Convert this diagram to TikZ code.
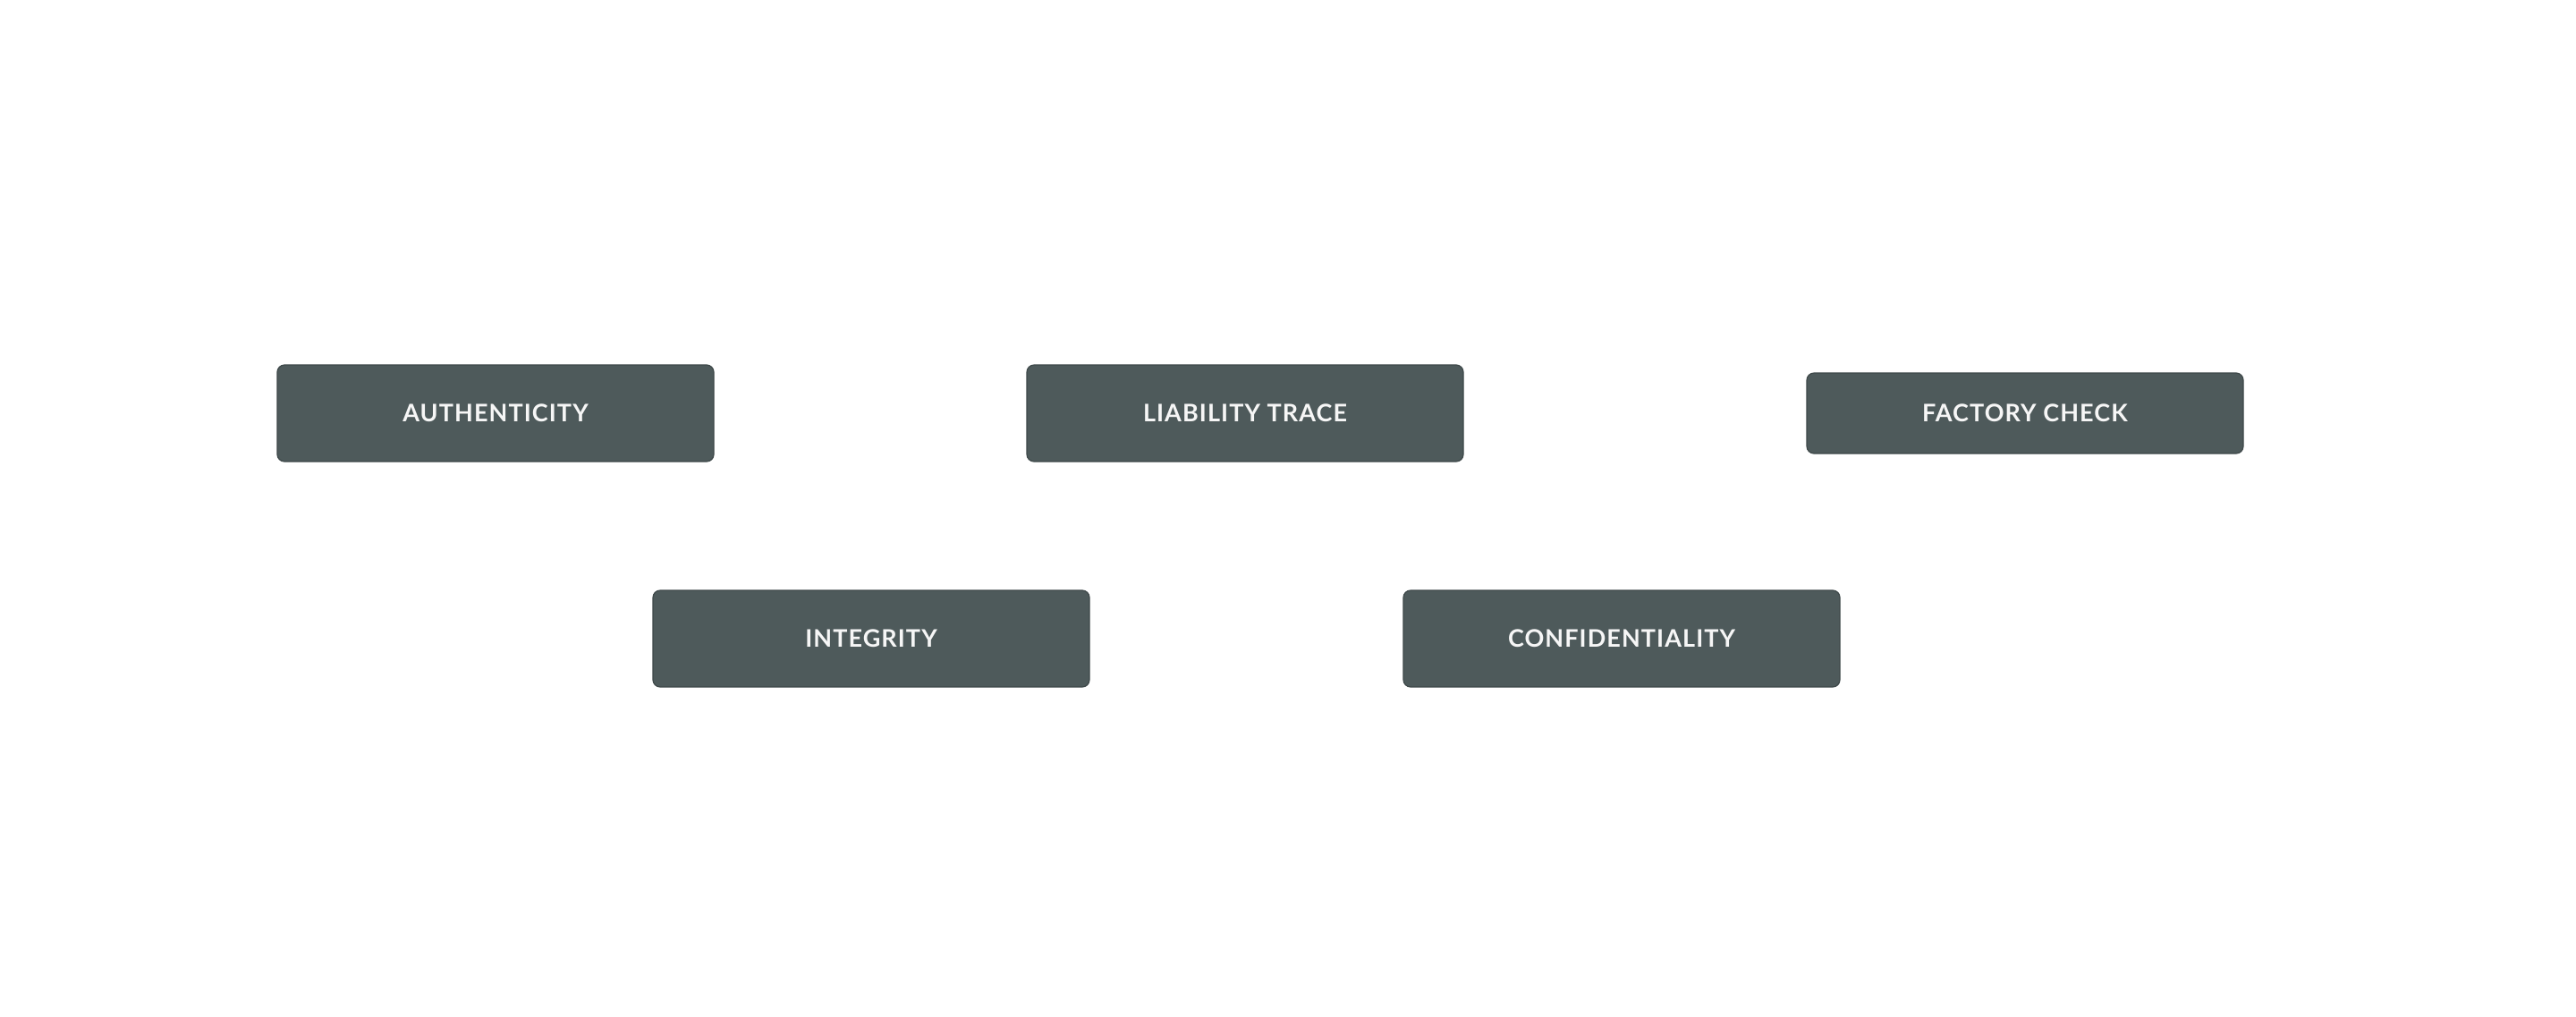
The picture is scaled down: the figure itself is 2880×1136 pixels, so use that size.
\documentclass[tikz,border=0pt]{standalone}
\usepackage{fontspec}
\usepackage{tikz}
\usetikzlibrary{positioning}
\newfontfamily\boxfont[LetterSpace=4]{Lato}
\definecolor{bc}{RGB}{78,90,91}
\definecolor{bd}{RGB}{62,72,73}
\definecolor{tc}{RGB}{246,246,246}
\tikzset{prop/.style={draw=bd,fill=bc,rounded corners=4pt,line width=.6pt,
  minimum width=244pt,minimum height=54pt,text=tc,font=\boxfont\bfseries\fontsize{13.5}{16}\selectfont},
 slim/.style={prop,minimum height=45pt}}
\begin{document}
\begin{tikzpicture}[x=.5pt,y=-.5pt]
\useasboundingbox[fill=white] (0,0) rectangle (2880,1136);
\node[prop] (auth) at (554,462) {AUTHENTICITY};
\node[prop] (liab) at (1392,462) {LIABILITY TRACE};
\node[slim] (fact) at (2264,462) {FACTORY CHECK};
\node[prop] (integ) at (974,714) {INTEGRITY};
\node[prop] (conf) at (1813,714) {CONFIDENTIALITY};
\end{tikzpicture}
\end{document}
